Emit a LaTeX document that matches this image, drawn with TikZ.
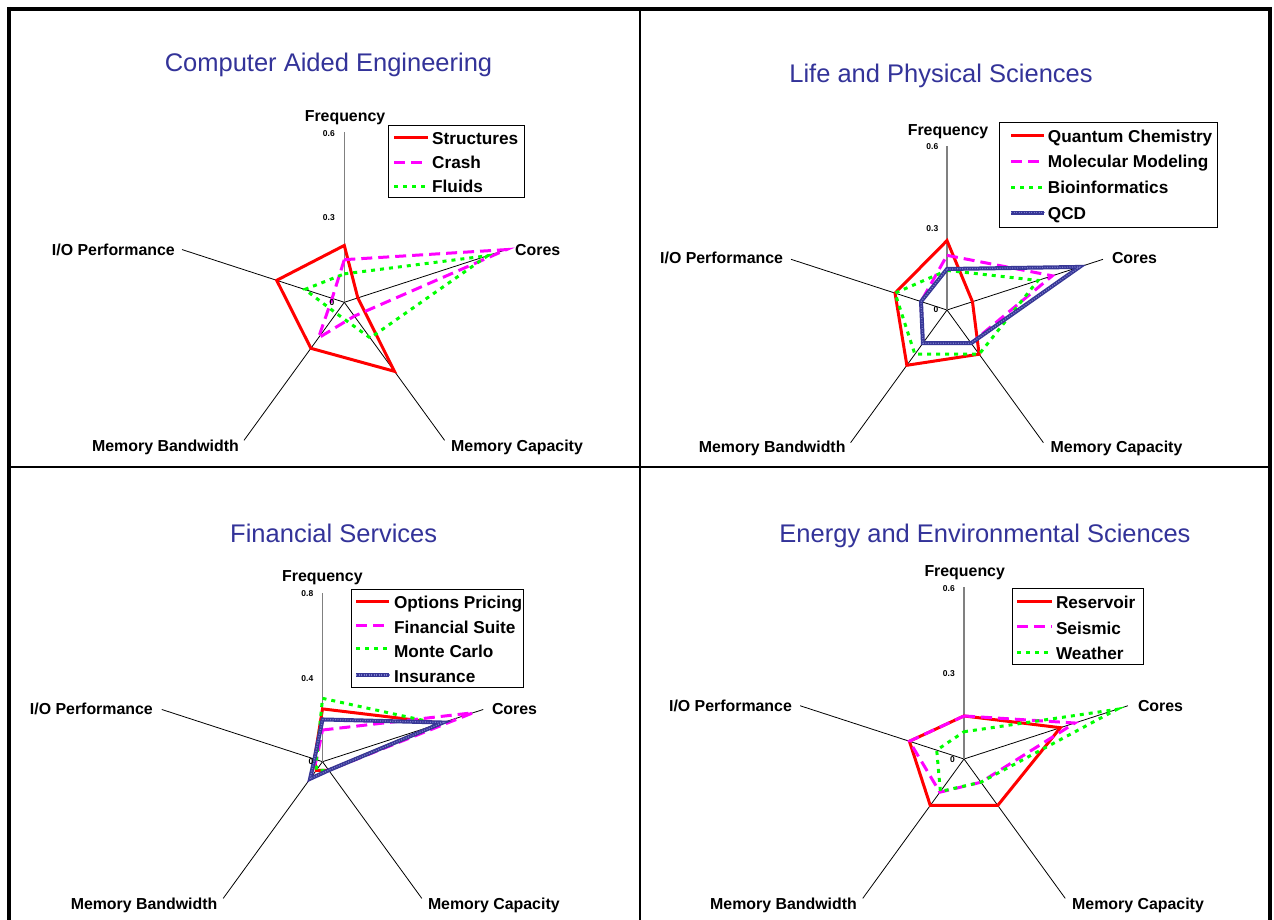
\documentclass[tikz,border=0pt]{standalone}
\usepackage{fontspec}
\setmainfont{Liberation Sans}
\definecolor{titleblue}{RGB}{51,51,153}
\definecolor{navyA}{RGB}{55,55,150}
\definecolor{navyB}{RGB}{125,125,205}
\definecolor{axisgray}{RGB}{128,128,128}
\definecolor{pRed}{RGB}{255,0,0}
\definecolor{pMag}{RGB}{255,0,255}
\definecolor{pGrn}{RGB}{0,255,0}
\newcommand\rk{1}
\newcommand\spokes[1]{%
  \draw[oaxis] (0,0) -- (18:#1pt);
  \draw[oaxis] (0,0) -- (-54:#1pt);
  \draw[oaxis] (0,0) -- (-126:#1pt);
  \draw[oaxis] (0,0) -- (162:#1pt);
  \draw[faxis] (0,0) -- (90:#1pt);}
\newcommand\series[6]{\draw[#1] (90:{#2*\rk pt}) -- (18:{#3*\rk pt}) -- (-54:{#4*\rk pt}) -- (-126:{#5*\rk pt}) -- (162:{#6*\rk pt}) -- cycle;}
\begin{document}
\begin{tikzpicture}[x=1pt,y=-1pt,
  titlestyle/.style={text=titleblue,font=\fontsize{25.5}{27}\selectfont,inner sep=0,anchor=base},
  axlabel/.style={font=\bfseries\fontsize{15.9}{17}\selectfont,inner sep=0},
  ticklabel/.style={font=\bfseries\fontsize{8.5}{9}\selectfont,inner sep=0,anchor=base east},
  legtext/.style={font=\bfseries\fontsize{17.2}{18}\selectfont,inner sep=0,anchor=base west},
  legbox/.style={draw=black,line width=1pt,fill=white},
  faxis/.style={draw=axisgray,line width=1.6pt},
  oaxis/.style={draw=black,line width=0.8pt},
  sred/.style={draw=pRed,line width=3pt},
  smag/.style={draw=pMag,line width=3pt,dash pattern=on 11pt off 6pt},
  sgrn/.style={draw=pGrn,line width=3pt,dash pattern=on 4pt off 5pt},
  sblu/.style={draw=navyA,line width=4pt,postaction={draw=navyB,line width=1.2pt,dash pattern=on 1pt off 1.5pt}},
  frameline/.style={draw=black,line width=4pt},
  divline/.style={draw=black,line width=2.8pt},
]
\useasboundingbox (0,0) rectangle (1274,920);
\fill[white] (0,0) rectangle (1274,920);

% ---------------- Panel 1: Computer Aided Engineering
\begin{scope}[shift={(344.3pt,-302.3pt)}]
  \renewcommand\rk{284.3}
  \spokes{170.6}
  \series{sred}{0.2}{0.05}{0.3}{0.2}{0.25}
  \series{smag}{0.15}{0.6}{0.06}{0.155}{0.045}
  \series{sgrn}{0.1}{0.53}{0.155}{0.048}{0.146}
\end{scope}
\node[titlestyle] (t1) at (328.5,71.7) {Computer Aided Engineering};
\node[axlabel,anchor=base] (f1) at (345,121.5) {Frequency};
\node[axlabel,anchor=base west] (c1) at (515,255) {Cores};
\node[axlabel,anchor=base east] (io1) at (175,255) {I/O Performance};
\node[axlabel,anchor=base east] (mb1) at (239,451.7) {Memory Bandwidth};
\node[axlabel,anchor=base west] (mc1) at (451,451.7) {Memory Capacity};
\node[ticklabel] (a1) at (335,136.5) {0.6};
\node[ticklabel] (b1) at (335,221) {0.3};
\node[ticklabel] (z1) at (334.5,305.7) {0};
\draw[legbox] (388.6,125.7) rectangle (524.5,197.7);
\draw[sred] (394,137.7) -- (428,137.7);
\draw[smag] (394,162.7) -- (428,162.7);
\draw[sgrn] (394,186.7) -- (428,186.7);
\node[legtext] (l11) at (432,145) {Structures};
\node[legtext] (l12) at (432,169) {Crash};
\node[legtext] (l13) at (432,193) {Fluids};

% ---------------- Panel 2: Life and Physical Sciences
\begin{scope}[shift={(947pt,-310pt)}]
  \renewcommand\rk{273.3}
  \spokes{164}
  \series{sred}{0.254}{0.098}{0.2}{0.25}{0.2}
  \series{smag}{0.2}{0.405}{0.15}{0.15}{0.1}
  \series{sgrn}{0.145}{0.35}{0.2}{0.2}{0.2}
  \series{sblu}{0.15}{0.51}{0.15}{0.15}{0.1}
\end{scope}
\node[titlestyle] (t2) at (941,82.5) {Life and Physical Sciences};
\node[axlabel,anchor=base] (f2) at (948,135.5) {Frequency};
\node[axlabel,anchor=base west] (c2) at (1111.8,263.7) {Cores};
\node[axlabel,anchor=base east] (io2) at (783.2,263.7) {I/O Performance};
\node[axlabel,anchor=base east] (mb2) at (845.7,452.3) {Memory Bandwidth};
\node[axlabel,anchor=base west] (mc2) at (1050.5,452.3) {Memory Capacity};
\node[ticklabel] (a2) at (938.5,149.3) {0.6};
\node[ticklabel] (b2) at (938.5,231.2) {0.3};
\node[ticklabel] (z2) at (938.5,312.5) {0};
\draw[legbox] (999,122.7) rectangle (1217.3,227.7);
\draw[sred] (1011,136) -- (1043.6,136);
\draw[smag] (1011,161.7) -- (1043.6,161.7);
\draw[sgrn] (1011,187.7) -- (1043.6,187.7);
\draw[sblu] (1011,212.7) -- (1043.6,212.7);
\node[legtext] (l21) at (1047.7,142.3) {Quantum Chemistry};
\node[legtext] (l22) at (1047.7,167.5) {Molecular Modeling};
\node[legtext] (l23) at (1047.7,194) {Bioinformatics};
\node[legtext] (l24) at (1047.7,219) {QCD};

% ---------------- Panel 3: Financial Services
\begin{scope}[shift={(322.5pt,-761.7pt)}]
  \renewcommand\rk{211.25}
  \spokes{169}
  \series{sred}{0.25}{0.59}{0.05}{0.05}{0.04}
  \series{smag}{0.15}{0.75}{0.05}{0.1}{0.03}
  \series{sgrn}{0.3}{0.58}{0.05}{0.05}{0.03}
  \series{sblu}{0.2}{0.6}{0.05}{0.1}{0.04}
\end{scope}
\node[titlestyle] (t3) at (333.7,542.5) {Financial Services};
\node[axlabel,anchor=base] (f3) at (322.4,581.5) {Frequency};
\node[axlabel,anchor=base west] (c3) at (491.8,714.3) {Cores};
\node[axlabel,anchor=base east] (io3) at (153,714.3) {I/O Performance};
\node[axlabel,anchor=base east] (mb3) at (217.6,909.5) {Memory Bandwidth};
\node[axlabel,anchor=base west] (mc3) at (427.8,909.5) {Memory Capacity};
\node[ticklabel] (a3) at (313.5,596) {0.8};
\node[ticklabel] (b3) at (313.5,681) {0.4};
\node[ticklabel] (z3) at (313.5,764.2) {0};
\draw[legbox] (351,589) rectangle (523.3,687.7);
\draw[sred] (356,601) -- (388.6,601);
\draw[smag] (356,625.7) -- (388.6,625.7);
\draw[sgrn] (356,648.3) -- (388.6,648.3);
\draw[sblu] (356,675) -- (388.6,675);
\node[legtext] (l31) at (393.9,608.3) {Options Pricing};
\node[legtext] (l32) at (393.9,633.3) {Financial Suite};
\node[legtext] (l33) at (393.9,657.5) {Monte Carlo};
\node[legtext] (l34) at (393.9,682.3) {Insurance};

% ---------------- Panel 4: Energy and Environmental Sciences
\begin{scope}[shift={(964pt,-759pt)}]
  \renewcommand\rk{287}
  \spokes{172.3}
  \series{sred}{0.15}{0.353}{0.2}{0.2}{0.2}
  \series{smag}{0.15}{0.406}{0.1}{0.143}{0.2}
  \series{sgrn}{0.095}{0.56}{0.1}{0.14}{0.1}
\end{scope}
\node[titlestyle] (t4) at (985,542.5) {Energy and Environmental Sciences};
\node[axlabel,anchor=base] (f4) at (964.7,576) {Frequency};
\node[axlabel,anchor=base west] (c4) at (1137.8,711.5) {Cores};
\node[axlabel,anchor=base east] (io4) at (792.1,711.5) {I/O Performance};
\node[axlabel,anchor=base east] (mb4) at (857,909.5) {Memory Bandwidth};
\node[axlabel,anchor=base west] (mc4) at (1072,909.5) {Memory Capacity};
\node[ticklabel] (a4) at (955,591) {0.6};
\node[ticklabel] (b4) at (955,676) {0.3};
\node[ticklabel] (z4) at (955,762) {0};
\draw[legbox] (1012,588.3) rectangle (1143,664.3);
\draw[sred] (1017.3,601.7) -- (1051.8,601.7);
\draw[smag] (1017.3,626.7) -- (1051.8,626.7);
\draw[sgrn] (1017.3,652.3) -- (1051.8,652.3);
\node[legtext] (l41) at (1055.8,608.5) {Reservoir};
\node[legtext] (l42) at (1055.8,634) {Seismic};
\node[legtext] (l43) at (1055.8,659) {Weather};

% ---------------- frame
\draw[frameline] (7,9) -- (1271.7,9);
\draw[frameline] (9,7) -- (9,920);
\draw[frameline] (1269.5,7) -- (1269.5,920);
\draw[divline] (640,9) -- (640,920);
\draw[divline] (9,467) -- (1269.5,467);
\end{tikzpicture}
\end{document}
